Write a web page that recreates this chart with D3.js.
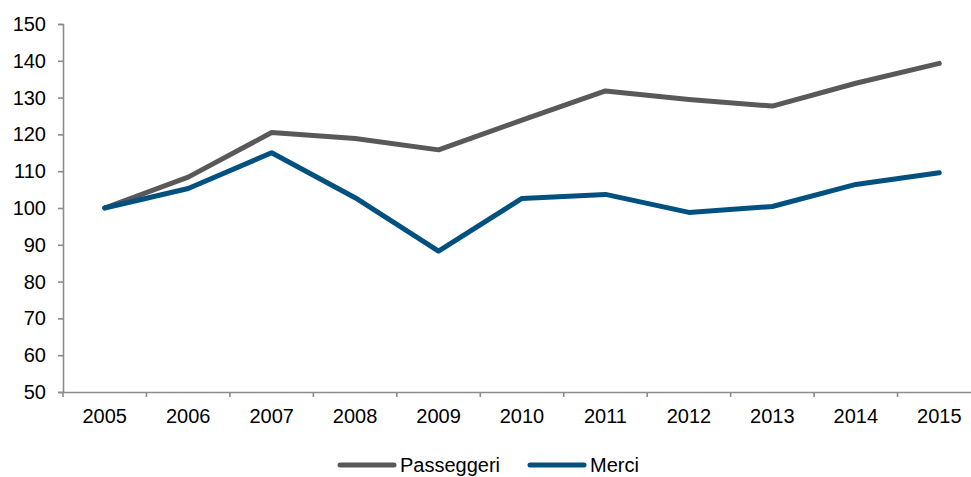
<!DOCTYPE html>
<html>
<head>
<meta charset="utf-8">
<script src="https://cdn.jsdelivr.net/npm/d3@7"></script>
<style>
  body { margin: 0; background: #fff; }
  svg text { font-family: "Liberation Sans", Arial, sans-serif; fill: #000; }
</style>
</head>
<body>
<div id="chart"></div>
<script>
const years = ["2005", "2006", "2007", "2008", "2009", "2010", "2011", "2012", "2013", "2014", "2015"];
const passeggeri = [100, 108.4, 120.5, 118.9, 115.8, 123.9, 131.8, 129.5, 127.7, 133.9, 139.3];
const merci = [100, 105.3, 115, 102.8, 88.3, 102.6, 103.7, 98.8, 100.4, 106.4, 109.6];
const yTicks = [50, 60, 70, 80, 90, 100, 110, 120, 130, 140, 150];

const series = [
  { name: "Passeggeri", values: passeggeri, color: "#595959" },
  { name: "Merci", values: merci, color: "#00517f" }
];

const width = 971, height = 477;
const margin = { top: 24, left: 63, bottom: 85 };
const plotRight = 981; // the axis runs past the right edge, as in the picture

const svg = d3.select("#chart").append("svg")
  .attr("width", width)
  .attr("height", height);

const x = d3.scaleBand()
  .domain(years)
  .range([margin.left, plotRight]);

const y = d3.scaleLinear()
  .domain([50, 150])
  .range([height - margin.bottom, margin.top]);

// y axis
const yAxis = svg.append("g")
  .attr("transform", "translate(" + margin.left + ",0)")
  .call(d3.axisLeft(y).tickValues(yTicks).tickSize(5).tickPadding(12));
yAxis.select(".domain").attr("stroke", "#8c8c8c").attr("stroke-width", 1.6);
yAxis.selectAll(".tick line").attr("stroke", "#8c8c8c").attr("stroke-width", 1.6);
yAxis.selectAll("text").style("font-size", "20px");

// x axis, ticks on the category boundaries
const xAxis = svg.append("g")
  .attr("transform", "translate(0," + y(50) + ")")
  .call(d3.axisBottom(x).tickSize(0).tickPadding(17));
xAxis.select(".domain").attr("stroke", "#8c8c8c").attr("stroke-width", 1.6);
xAxis.selectAll("text").style("font-size", "20px");
xAxis.selectAll(".boundary")
  .data(years)
  .enter().append("line")
  .attr("x1", d => x(d))
  .attr("x2", d => x(d))
  .attr("y1", 0)
  .attr("y2", 5)
  .attr("stroke", "#8c8c8c")
  .attr("stroke-width", 1.6);

const line = d3.line()
  .x((d, i) => x(years[i]) + x.bandwidth() / 2)
  .y(d => y(d));

svg.selectAll(".series")
  .data(series)
  .enter().append("path")
  .attr("fill", "none")
  .attr("stroke", d => d.color)
  .attr("stroke-width", 5)
  .attr("stroke-linejoin", "round")
  .attr("stroke-linecap", "round")
  .attr("d", d => line(d.values));

// legend
const legendX = [340, 530];
const legend = svg.selectAll(".legend")
  .data(series)
  .enter().append("g")
  .attr("transform", (d, i) => "translate(" + legendX[i] + ",465)");
legend.append("line")
  .attr("x1", 0).attr("x2", 54)
  .attr("stroke", d => d.color)
  .attr("stroke-width", 5)
  .attr("stroke-linecap", "round");
legend.append("text")
  .attr("x", 60)
  .attr("dy", "0.35em")
  .style("font-size", "20px")
  .text(d => d.name);
</script>
</body>
</html>
